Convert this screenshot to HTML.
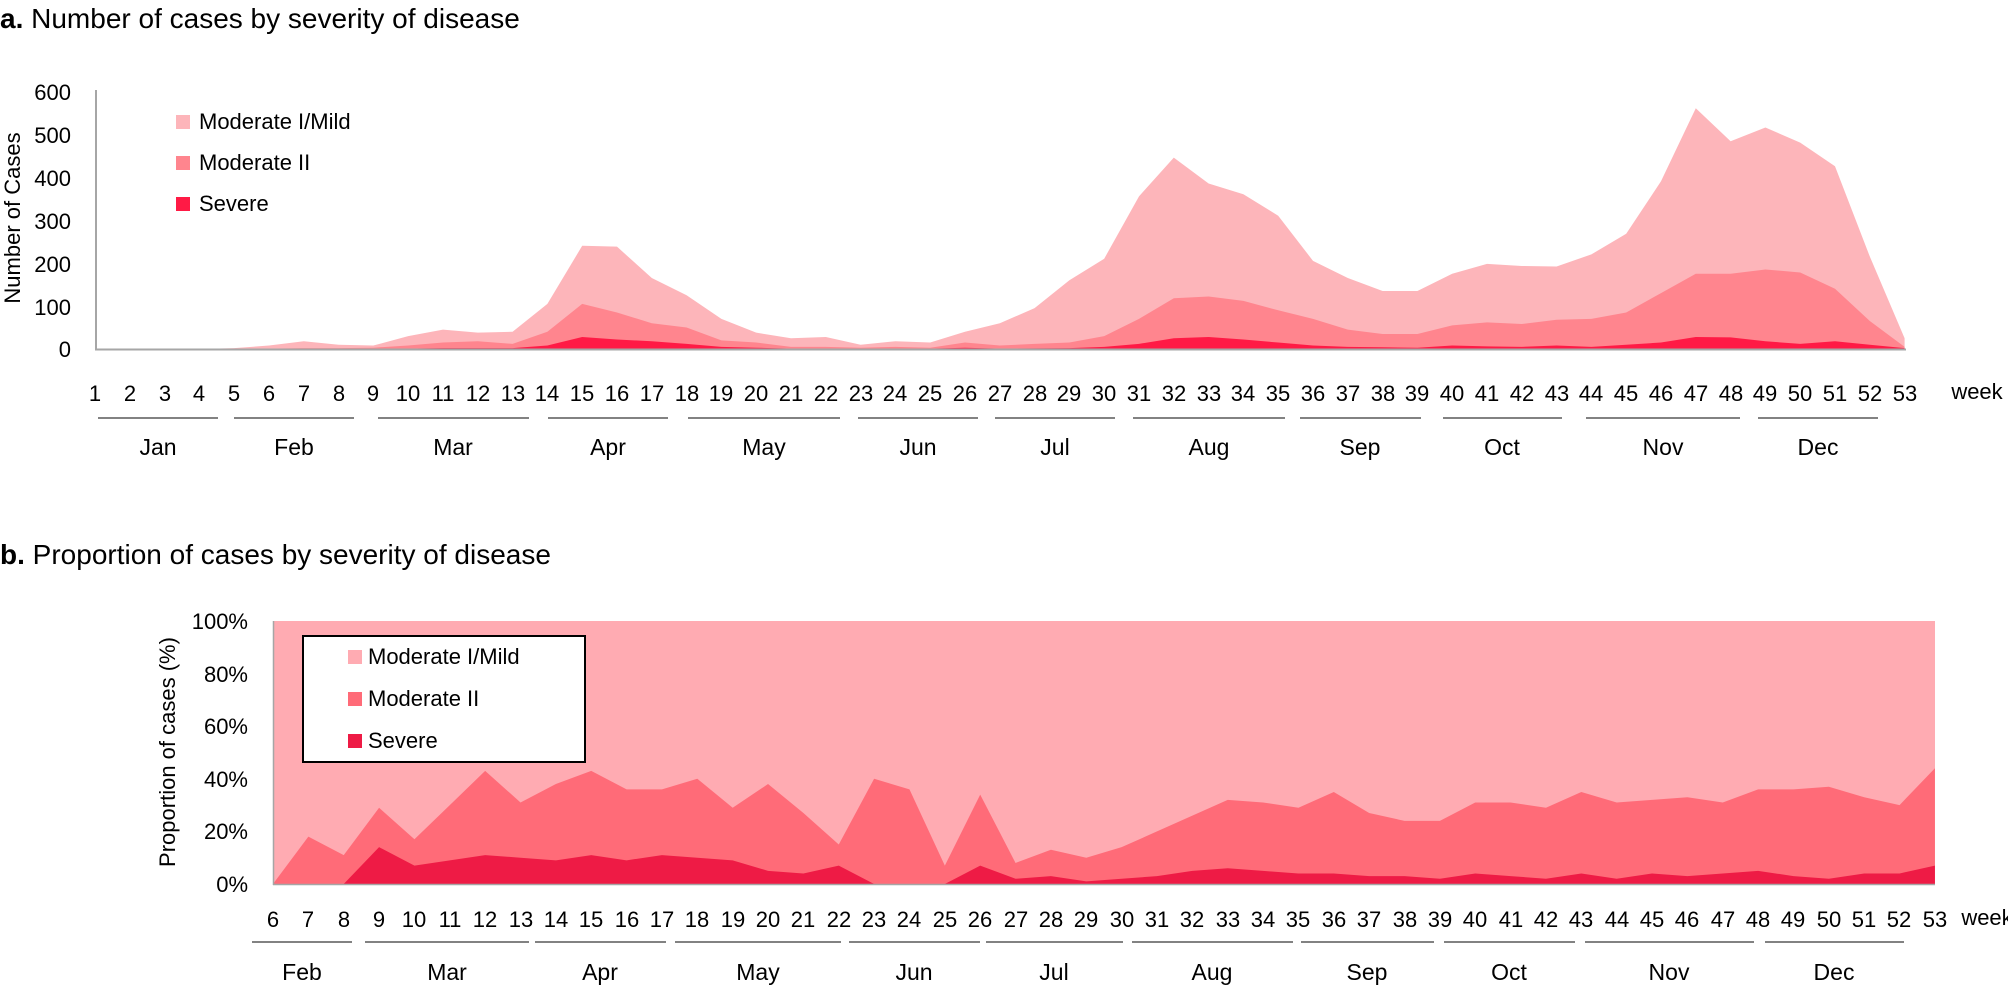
<!DOCTYPE html>
<html><head><meta charset="utf-8"><style>
html,body{margin:0;padding:0;background:#fff;width:2008px;height:987px;overflow:hidden}
svg{display:block;font-family:"Liberation Sans",sans-serif}
</style></head><body>
<svg width="2008" height="987" viewBox="0 0 2008 987" xmlns="http://www.w3.org/2000/svg">
<!-- Titles -->
<text x="0" y="28" font-size="28"><tspan font-weight="bold">a.</tspan> Number of cases by severity of disease</text>
<text x="0" y="564" font-size="28"><tspan font-weight="bold">b.</tspan> Proportion of cases by severity of disease</text>

<!-- Chart a -->
<g transform="translate(60.2,349) scale(34.8,-0.43)">
<polygon fill="#FDB5BA" points="1,0 2,0 3,0 4,0 5,2 6,8 7,18 8,10 9,8 10,30 11,45 12,38 13,40 14,105 15,240 16,238 17,165 18,125 19,70 20,38 21,25 22,28 23,10 24,18 25,15 26,40 27,60 28,95 29,160 30,210 31,355 32,445 33,385 34,360 35,310 36,205 37,165 38,135 39,135 40,175 41,198 42,193 43,192 44,220 45,268 46,390 47,560 48,483 49,515 50,480 51,425 52,215 53,25 53,0"/>
<polygon fill="#FF858E" points="1,0 4,0 5,0 6,1 7,2 8,2 9,3 10,8 11,15 12,18 13,12 14,40 15,105 16,85 17,60 18,50 19,20 20,15 21,5 22,5 23,3 24,5 25,3 26,15 27,8 28,12 29,15 30,30 31,70 32,118 33,122 34,112 35,90 36,70 37,45 38,35 39,35 40,55 41,62 42,58 43,68 44,70 45,85 46,130 47,175 48,175 49,185 50,178 51,140 52,65 53,5 53,0"/>
<polygon fill="#FF1A45" points="1,0 9,0 10,1 11,2 12,2 13,2 14,8 15,28 16,22 17,18 18,12 19,5 20,3 21,1 25,1 26,3 27,1 29,2 30,5 31,12 32,25 33,28 34,22 35,15 36,8 37,5 38,4 39,3 40,8 41,6 42,5 43,8 44,5 45,10 46,15 47,28 48,27 49,18 50,12 51,18 52,10 53,2 53,0"/>
</g>
<line x1="96" y1="90" x2="96" y2="350" stroke="#a6a6a6" stroke-width="2"/>
<line x1="95" y1="349.5" x2="1906" y2="349.5" stroke="#a6a6a6" stroke-width="2"/>
<g font-size="22" text-anchor="end">
<text x="71" y="100">600</text><text x="71" y="143">500</text><text x="71" y="186">400</text>
<text x="71" y="229">300</text><text x="71" y="272">200</text><text x="71" y="315">100</text><text x="71" y="357">0</text>
</g>
<text transform="translate(20,218) rotate(-90)" font-size="22" text-anchor="middle">Number of Cases</text>
<rect x="176" y="115" width="14" height="14" fill="#FDB5BA"/><text x="199" y="129" font-size="22">Moderate I/Mild</text>
<rect x="176" y="156" width="14" height="14" fill="#FF858E"/><text x="199" y="170" font-size="22">Moderate II</text>
<rect x="176" y="197" width="14" height="14" fill="#FF1A45"/><text x="199" y="211" font-size="22">Severe</text>

<g font-size="22" text-anchor="middle">
<text x="95" y="401">1</text><text x="130" y="401">2</text><text x="165" y="401">3</text><text x="199" y="401">4</text><text x="234" y="401">5</text><text x="269" y="401">6</text><text x="304" y="401">7</text><text x="339" y="401">8</text><text x="373" y="401">9</text><text x="408" y="401">10</text><text x="443" y="401">11</text><text x="478" y="401">12</text><text x="513" y="401">13</text><text x="547" y="401">14</text><text x="582" y="401">15</text><text x="617" y="401">16</text><text x="652" y="401">17</text><text x="687" y="401">18</text><text x="721" y="401">19</text><text x="756" y="401">20</text><text x="791" y="401">21</text><text x="826" y="401">22</text><text x="861" y="401">23</text><text x="895" y="401">24</text><text x="930" y="401">25</text><text x="965" y="401">26</text><text x="1000" y="401">27</text><text x="1035" y="401">28</text><text x="1069" y="401">29</text><text x="1104" y="401">30</text><text x="1139" y="401">31</text><text x="1174" y="401">32</text><text x="1209" y="401">33</text><text x="1243" y="401">34</text><text x="1278" y="401">35</text><text x="1313" y="401">36</text><text x="1348" y="401">37</text><text x="1383" y="401">38</text><text x="1417" y="401">39</text><text x="1452" y="401">40</text><text x="1487" y="401">41</text><text x="1522" y="401">42</text><text x="1557" y="401">43</text><text x="1591" y="401">44</text><text x="1626" y="401">45</text><text x="1661" y="401">46</text><text x="1696" y="401">47</text><text x="1731" y="401">48</text><text x="1765" y="401">49</text><text x="1800" y="401">50</text><text x="1835" y="401">51</text><text x="1870" y="401">52</text><text x="1905" y="401">53</text>
<text x="1977" y="399">week</text>
</g>
<g stroke="#595959" stroke-width="1.5">
<line x1="98" y1="418" x2="218" y2="418"/><line x1="234" y1="418" x2="354" y2="418"/><line x1="378" y1="418" x2="529" y2="418"/><line x1="548" y1="418" x2="668" y2="418"/><line x1="688" y1="418" x2="840" y2="418"/><line x1="858" y1="418" x2="978" y2="418"/><line x1="995" y1="418" x2="1115" y2="418"/><line x1="1133" y1="418" x2="1285" y2="418"/><line x1="1300" y1="418" x2="1421" y2="418"/><line x1="1443" y1="418" x2="1562" y2="418"/><line x1="1586" y1="418" x2="1740" y2="418"/><line x1="1758" y1="418" x2="1878" y2="418"/>
</g>
<g font-size="23" text-anchor="middle">
<text x="158" y="455">Jan</text><text x="294" y="455">Feb</text><text x="453" y="455">Mar</text><text x="608" y="455">Apr</text><text x="764" y="455">May</text><text x="918" y="455">Jun</text><text x="1055" y="455">Jul</text><text x="1209" y="455">Aug</text><text x="1360" y="455">Sep</text><text x="1502" y="455">Oct</text><text x="1663" y="455">Nov</text><text x="1818" y="455">Dec</text>
</g>

<!-- Chart b -->
<rect x="273" y="621" width="1662" height="263" fill="#FFABB2"/>
<g transform="translate(60.84,884) scale(35.36,-2.63)">
<polygon fill="#FF6B78" points="6,0 7,18 8,11 9,29 10,17 11,30 12,43 13,31 14,38 15,43 16,36 17,36 18,40 19,29 20,38 21,27 22,15 23,40 24,36 25,7 26,34 27,8 28,13 29,10 30,14 31,20 32,26 33,32 34,31 35,29 36,35 37,27 38,24 39,24 40,31 41,31 42,29 43,35 44,31 45,32 46,33 47,31 48,36 49,36 50,37 51,33 52,30 53,44 53,0"/>
<polygon fill="#EE1B45" points="6,0 7,0 8,0 9,14 10,7 11,9 12,11 13,10 14,9 15,11 16,9 17,11 18,10 19,9 20,5 21,4 22,7 23,0 24,0 25,0 26,7 27,2 28,3 29,1 30,2 31,3 32,5 33,6 34,5 35,4 36,4 37,3 38,3 39,2 40,4 41,3 42,2 43,4 44,2 45,4 46,3 47,4 48,5 49,3 50,2 51,4 52,4 53,7 53,0"/>
</g>
<line x1="273.5" y1="621" x2="273.5" y2="885" stroke="#a6a6a6" stroke-width="1.5"/>
<line x1="273" y1="884.5" x2="1935" y2="884.5" stroke="#a6a6a6" stroke-width="1.5"/>
<g font-size="22" text-anchor="end">
<text x="248" y="629">100%</text><text x="248" y="682">80%</text><text x="248" y="734">60%</text><text x="248" y="787">40%</text><text x="248" y="839">20%</text><text x="248" y="892">0%</text>
</g>
<text transform="translate(175,752) rotate(-90)" font-size="22" text-anchor="middle">Proportion of cases (%)</text>
<rect x="303" y="636" width="282" height="126" fill="#fff" stroke="#000" stroke-width="2"/>
<rect x="348" y="650" width="14" height="14" fill="#FFABB2"/><text x="368" y="664" font-size="22">Moderate I/Mild</text>
<rect x="348" y="692" width="14" height="14" fill="#FF6B78"/><text x="368" y="706" font-size="22">Moderate II</text>
<rect x="348" y="734" width="14" height="14" fill="#EE1B45"/><text x="368" y="748" font-size="22">Severe</text>

<g font-size="22" text-anchor="middle">
<text x="273" y="927">6</text><text x="308" y="927">7</text><text x="344" y="927">8</text><text x="379" y="927">9</text><text x="414" y="927">10</text><text x="450" y="927">11</text><text x="485" y="927">12</text><text x="521" y="927">13</text><text x="556" y="927">14</text><text x="591" y="927">15</text><text x="627" y="927">16</text><text x="662" y="927">17</text><text x="697" y="927">18</text><text x="733" y="927">19</text><text x="768" y="927">20</text><text x="803" y="927">21</text><text x="839" y="927">22</text><text x="874" y="927">23</text><text x="909" y="927">24</text><text x="945" y="927">25</text><text x="980" y="927">26</text><text x="1016" y="927">27</text><text x="1051" y="927">28</text><text x="1086" y="927">29</text><text x="1122" y="927">30</text><text x="1157" y="927">31</text><text x="1192" y="927">32</text><text x="1228" y="927">33</text><text x="1263" y="927">34</text><text x="1298" y="927">35</text><text x="1334" y="927">36</text><text x="1369" y="927">37</text><text x="1405" y="927">38</text><text x="1440" y="927">39</text><text x="1475" y="927">40</text><text x="1511" y="927">41</text><text x="1546" y="927">42</text><text x="1581" y="927">43</text><text x="1617" y="927">44</text><text x="1652" y="927">45</text><text x="1687" y="927">46</text><text x="1723" y="927">47</text><text x="1758" y="927">48</text><text x="1793" y="927">49</text><text x="1829" y="927">50</text><text x="1864" y="927">51</text><text x="1899" y="927">52</text><text x="1935" y="927">53</text>
<text x="1987" y="925">week</text>
</g>
<g stroke="#595959" stroke-width="1.5">
<line x1="252" y1="942" x2="352" y2="942"/><line x1="365" y1="942" x2="529" y2="942"/><line x1="535" y1="942" x2="666" y2="942"/><line x1="675" y1="942" x2="841" y2="942"/><line x1="849" y1="942" x2="980" y2="942"/><line x1="986" y1="942" x2="1123" y2="942"/><line x1="1132" y1="942" x2="1293" y2="942"/><line x1="1301" y1="942" x2="1434" y2="942"/><line x1="1444" y1="942" x2="1575" y2="942"/><line x1="1585" y1="942" x2="1754" y2="942"/><line x1="1765" y1="942" x2="1904" y2="942"/>
</g>
<g font-size="23" text-anchor="middle">
<text x="302" y="980">Feb</text><text x="447" y="980">Mar</text><text x="600" y="980">Apr</text><text x="758" y="980">May</text><text x="914" y="980">Jun</text><text x="1054" y="980">Jul</text><text x="1212" y="980">Aug</text><text x="1367" y="980">Sep</text><text x="1509" y="980">Oct</text><text x="1669" y="980">Nov</text><text x="1834" y="980">Dec</text>
</g>
</svg>
</body></html>
